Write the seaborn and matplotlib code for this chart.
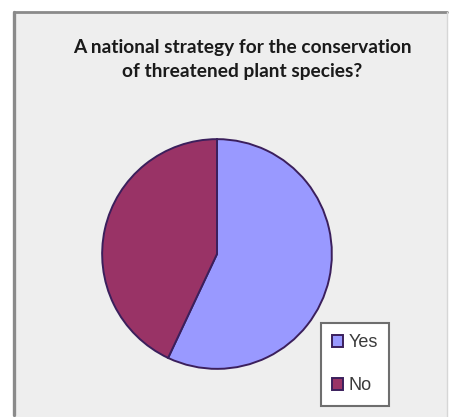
import matplotlib
matplotlib.use("Agg")
import matplotlib.pyplot as plt
from matplotlib.patches import Rectangle
from matplotlib.lines import Line2D
import seaborn as sns

# Survey answers (share of respondents)
answers = ["Yes", "No"]
shares = [57, 43]
slice_colors = ["#9999FF", "#993366"]
title_lines = ["A national strategy for the conservation", "of threatened plant species?"]

sns.set_style("white")
plt.rcParams["font.family"] = ["Liberation Sans", "DejaVu Sans"]

W, H = 452, 417
fig = plt.figure(figsize=(W / 100, H / 100), dpi=100)
fig.patch.set_facecolor("white")

# Chart area panel (runs past the bottom edge)
x0, x1, ytop = 14 / W, 447 / W, 1 - 12 / H
panel = Rectangle((x0, -0.02), x1 - x0, ytop + 0.02,
                  transform=fig.transFigure, facecolor="#eeeeee",
                  edgecolor="none", zorder=-5)
fig.patches.append(panel)
fig.lines.append(Line2D([x0, x0], [0.005, ytop], transform=fig.transFigure,
                        color="#8a8a8a", linewidth=2.4, zorder=-4))
fig.lines.append(Line2D([x0, x1], [ytop, ytop], transform=fig.transFigure,
                        color="#8a8a8a", linewidth=2.0, zorder=-4))
fig.lines.append(Line2D([x1, x1], [0, ytop], transform=fig.transFigure,
                        color="#d6d6d6", linewidth=1.0, zorder=-4))

fig.text(242 / W, 1 - 60 / H, "\n".join(title_lines), ha="center", va="center",
         fontsize=13.8, fontweight="bold", family=["Lato", "DejaVu Sans"],
         color="#1a1a1a", linespacing=1.5)

# Pie placed with centre (217, 254) px and radius 116 px
cx, cy, r = 217, 254, 116
ax = fig.add_axes([(cx - r) / W, (H - cy - r) / H, 2 * r / W, 2 * r / H])
ax.set_zorder(2)
ax.patch.set_alpha(0)
wedges, _ = ax.pie(shares, colors=slice_colors, startangle=90, counterclock=False,
                   radius=1.0,
                   wedgeprops=dict(edgecolor="#3b1f5c", linewidth=1.4))
ax.set_xlim(-1.01, 1.01)
ax.set_ylim(-1.01, 1.01)
ax.set_aspect("auto")
ax.axis("off")

leg = fig.legend(wedges, answers, loc="upper left",
                 bbox_to_anchor=(321 / W, 1 - 323 / H),
                 frameon=True, fancybox=False, fontsize=13,
                 handlelength=0.6, handleheight=0.6, handletextpad=0.3,
                 labelspacing=1.45, borderpad=0.62, borderaxespad=0)
leg.set_zorder(3)
frame = leg.get_frame()
frame.set_edgecolor("#6e6e6e")
frame.set_linewidth(1.5)
frame.set_facecolor("white")
frame.set_alpha(1)
for t in leg.get_texts():
    t.set_color("#3a3a3a")

fig.savefig("out.png", dpi=100)
